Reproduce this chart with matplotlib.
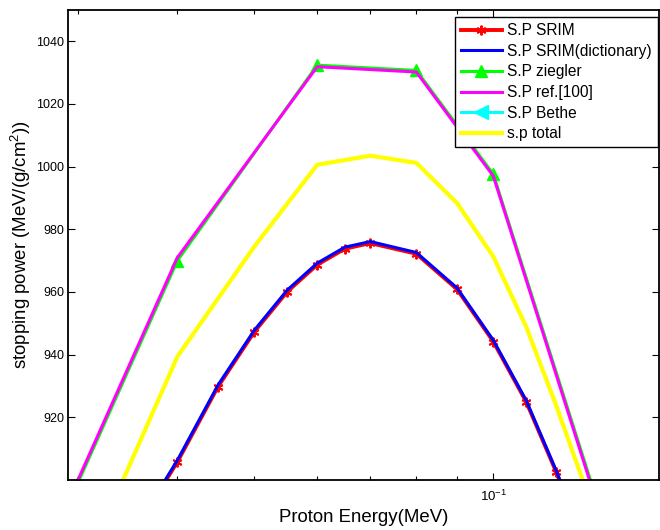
import matplotlib
matplotlib.use("Agg")
import matplotlib.pyplot as plt
from matplotlib.ticker import LogLocator, NullFormatter, FixedLocator

plt.rcParams['font.family'] = ['Liberation Sans', 'DejaVu Sans']
plt.rcParams['mathtext.fontset'] = 'custom'
plt.rcParams['mathtext.rm'] = 'Liberation Sans'
plt.rcParams['mathtext.it'] = 'Liberation Sans:italic'

# Proton energy grids (MeV)
e_srim = [0.035, 0.04, 0.045, 0.05, 0.055, 0.06, 0.065, 0.07, 0.08, 0.09, 0.10, 0.11, 0.12, 0.13]
e_zieg = [0.03, 0.04, 0.06, 0.08, 0.10, 0.14]
e_total = [0.03, 0.04, 0.05, 0.06, 0.07, 0.08, 0.09, 0.10, 0.11, 0.12, 0.13]

# Stopping power values, MeV/(g/cm^2)
sp_srim = [882.0, 905.8, 929.8, 947.3, 960.1, 968.7, 973.8, 975.6, 972.2, 960.9, 944.2, 925.0, 902.6, 880.0]
sp_srim_dict = [882.5, 906.3, 930.3, 947.8, 960.6, 969.2, 974.3, 976.1, 972.6, 961.3, 944.6, 925.4, 903.0, 880.4]
sp_ziegler = [899.3, 970.0, 1032.4, 1030.7, 997.6, 881.0]
sp_ref100 = [900.2, 971.0, 1031.9, 1030.2, 997.0, 880.0]
sp_bethe = []
e_bethe = []
sp_total = [867.5, 939.4, 974.5, 1000.6, 1003.5, 1001.2, 988.4, 971.3, 948.9, 923.8, 899.0]

labels = ['S.P SRIM', 'S.P SRIM(dictionary)', 'S.P ziegler', 'S.P ref.[100]', 'S.P Bethe', 's.p total']

fig = plt.figure(figsize=(6.6, 5.3), dpi=100)
ax = fig.add_axes([68.3/660, 1-480/530, (659-68.3)/660, (480-10)/530])

lw = 2.2
ax.plot(e_srim, sp_srim, color='red', lw=lw+0.6, marker=(6, 2, 0), ms=7, mew=1.4, label=labels[0])
ax.plot(e_srim, sp_srim_dict, color='blue', lw=lw, label=labels[1])
ax.plot(e_zieg, sp_ziegler, color='#00ff00', lw=lw, marker='^', ms=9, label=labels[2])
ax.plot(e_zieg, sp_ref100, color='magenta', lw=lw, label=labels[3])
ax.plot(e_bethe, sp_bethe, color='cyan', lw=lw, marker='<', ms=10, label=labels[4])
ax.plot(e_total, sp_total, color='yellow', lw=lw+0.8, label=labels[5])

ax.set_xscale('log')
ax.set_xlim(0.02915, 0.1617)
ax.set_ylim(900, 1050)
ax.set_yticks([920, 940, 960, 980, 1000, 1020, 1040])
ax.xaxis.set_major_locator(FixedLocator([0.1]))
ax.xaxis.set_minor_locator(LogLocator(base=10, subs=range(2, 10)))
ax.xaxis.set_minor_formatter(NullFormatter())

for s in ax.spines.values():
    s.set_linewidth(1.3)
ax.tick_params(which='both', direction='in', top=True, right=True, labelsize=9, width=0.8)
ax.tick_params(axis='y', which='major', length=5, pad=3)
ax.tick_params(axis='x', which='major', length=5, pad=6, labelsize=9.5)
ax.tick_params(axis='x', which='minor', length=3)

ax.set_xlabel('Proton Energy(MeV)', fontsize=13.4, labelpad=4)
ax.set_ylabel('stopping power (MeV/(g/cm$^2$))', fontsize=13.4, labelpad=2)

leg = ax.legend(loc='upper left', bbox_to_anchor=(455/660, 1-17/530), bbox_transform=fig.transFigure,
                fontsize=11.2, frameon=True, fancybox=False, framealpha=1, edgecolor='black',
                borderaxespad=0, borderpad=0.4, handlelength=2.6, handletextpad=0.35,
                labelspacing=0.36)
leg.get_frame().set_linewidth(1.0)

fig.savefig('out.png', dpi=100)
